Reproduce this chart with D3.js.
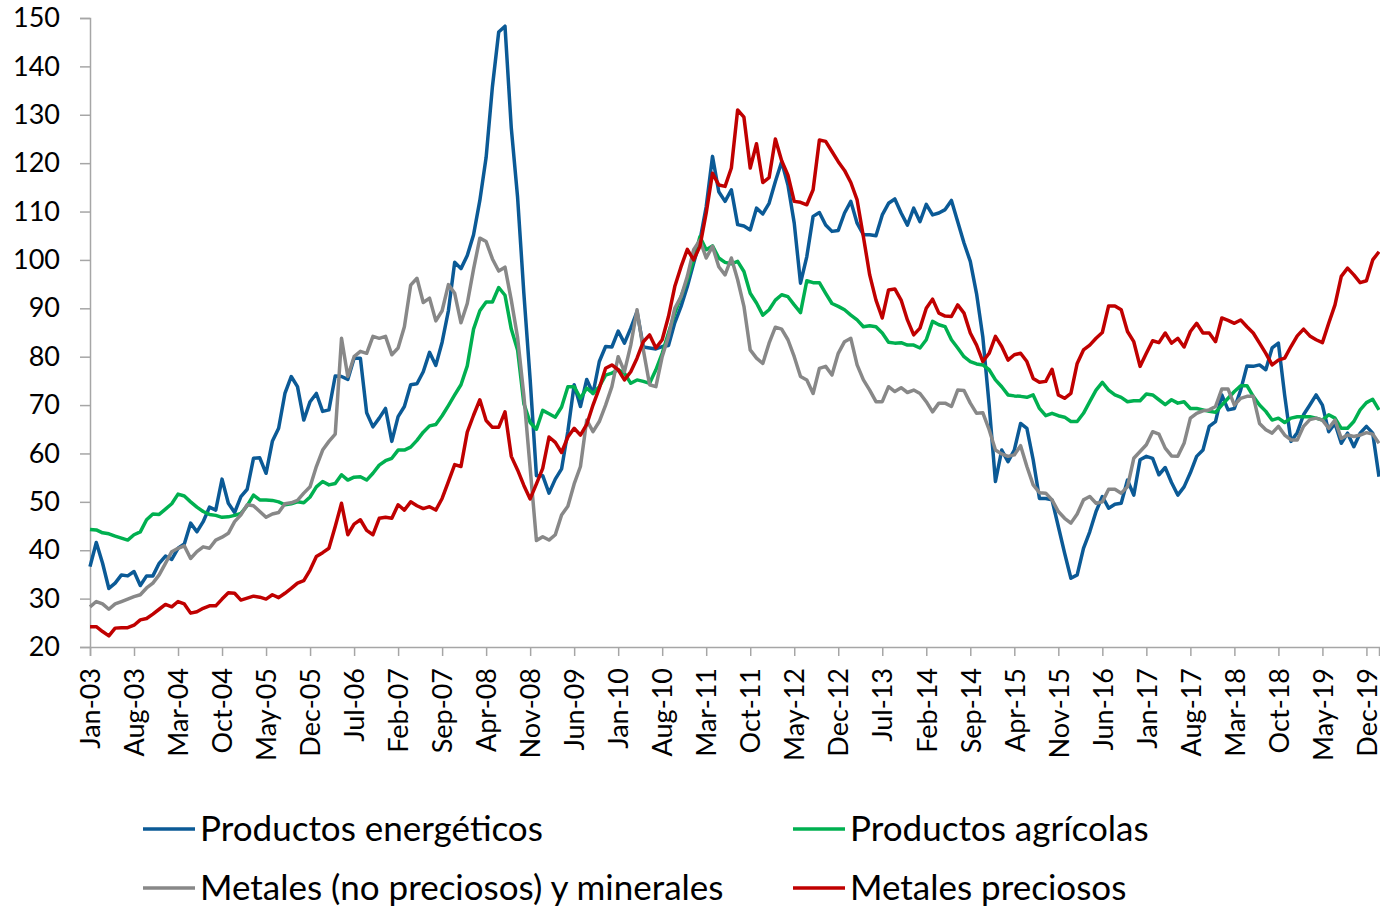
<!DOCTYPE html>
<html>
<head>
<meta charset="utf-8">
<script src="https://cdn.jsdelivr.net/npm/d3@7"></script>
<style>
  body { margin: 0; background: #fff; }
  svg text { font-family: Lato, "Liberation Sans", sans-serif; fill: #000; }
</style>
</head>
<body>
<svg id="chart" width="1380" height="907"></svg>
<script>
// monthly series, Jan-03 .. Feb-20
var startMonth = new Date(2003, 0, 1);

var energeticos = [
  36.6,41.6,37.3,32.1,33.2,34.9,34.7,35.6,32.7,34.7,
  34.7,37.3,38.8,38.1,40.4,41.3,45.6,43.8,45.9,48.9,
  48.3,54.7,49.7,47.8,51.1,52.6,59.0,59.1,55.9,62.5,
  65.2,72.4,75.9,73.8,66.9,70.7,72.4,68.7,69.0,76.0,
  75.9,75.3,79.7,79.7,68.4,65.5,67.3,69.3,62.5,67.6,
  69.7,74.2,74.4,76.9,80.9,78.2,83.0,89.5,99.5,98.2,
  100.9,105.2,112.3,121.2,135.8,147.1,148.3,127.3,113.0,93.1,
  75.3,55.4,55.4,51.8,54.7,56.8,64.6,74.2,69.7,75.3,
  72.4,79.0,82.1,82.0,85.3,82.8,85.9,89.3,82.0,81.8,
  81.6,82.1,82.3,87.0,90.4,94.5,99.3,104.0,111.0,121.4,
  114.1,112.1,114.5,107.3,107.0,106.2,110.7,109.5,111.7,116.2,
  120.3,115.5,107.6,95.2,100.7,109.0,109.8,107.2,105.9,106.1,
  109.7,112.1,107.6,105.2,105.2,105.0,109.3,111.7,112.6,109.7,
  107.2,110.7,107.9,111.5,109.3,109.7,110.4,112.3,107.9,103.5,
  99.7,93.0,84.0,70.0,54.2,60.7,58.3,60.7,66.2,65.2,
  58.7,50.7,50.7,50.4,44.9,39.4,34.2,34.9,40.4,43.8,
  48.0,51.1,48.7,49.5,49.7,54.5,51.4,58.7,59.4,59.0,
  55.6,57.1,54.0,51.4,53.1,56.0,59.4,60.7,65.6,66.6,
  72.1,69.0,69.3,73.1,78.1,78.0,78.3,77.3,81.8,82.8,
  72.0,62.5,64.3,68.0,70.0,72.1,70.0,64.5,66.2,62.1,
  64.2,61.4,64.2,65.6,64.2,55.2];

var agricolas = [
  44.3,44.2,43.6,43.4,42.9,42.5,42.1,43.2,43.8,46.3,
  47.5,47.4,48.5,49.6,51.6,51.2,50.0,48.9,48.0,47.4,
  47.2,46.8,46.9,47.2,47.6,49.2,51.4,50.4,50.4,50.3,
  50.0,49.4,49.6,50.0,49.8,51.0,53.1,54.2,53.5,53.8,
  55.6,54.5,55.1,55.2,54.5,55.9,57.6,58.5,59.0,60.7,
  60.7,61.3,62.7,64.4,65.7,66.0,67.8,69.9,72.1,74.2,
  78.1,85.7,89.5,91.3,91.3,94.3,92.7,85.7,81.4,70.3,
  66.4,65.0,68.9,68.2,67.5,69.6,73.8,73.8,71.4,73.5,
  72.4,73.8,76.2,76.6,77.3,76.6,74.5,75.2,74.9,74.5,
  77.3,80.7,84.9,89.0,92.4,95.9,100.0,104.8,102.1,102.9,
  100.4,99.5,99.2,99.7,97.6,93.1,91.1,88.6,89.7,91.7,
  92.8,92.4,90.7,89.1,95.7,95.3,95.3,93.1,91.0,90.4,
  89.7,88.6,87.6,86.2,86.4,86.2,84.9,83.0,82.8,82.9,
  82.4,82.4,81.8,83.5,87.3,86.6,86.2,83.5,81.8,80.0,
  79.0,78.5,78.3,77.3,75.2,73.8,72.1,71.9,71.8,71.6,
  72.1,69.3,67.8,68.3,67.8,67.5,66.6,66.6,68.3,70.7,
  73.1,74.7,73.1,72.1,71.6,70.7,70.9,70.9,72.3,72.1,
  71.1,70.1,71.1,70.4,70.7,69.3,69.3,69.0,68.7,68.5,
  70.0,71.4,72.8,74.0,74.0,71.8,70.0,68.7,66.9,67.3,
  66.4,67.3,67.6,67.6,67.6,67.3,66.9,68.0,67.3,65.2,
  65.2,66.6,69.0,70.5,71.2,69.0];

var metales = [
  28.3,29.4,28.9,27.8,28.9,29.4,29.9,30.4,30.8,32.2,
  33.2,34.9,37.3,39.7,40.4,40.9,38.3,39.7,40.7,40.4,
  42.1,42.7,43.5,45.9,47.3,49.4,49.2,48.0,46.8,47.5,
  47.8,49.6,49.8,50.3,51.8,53.1,57.3,60.7,62.5,64.0,
  83.8,75.9,80.0,81.1,80.7,84.2,83.8,84.2,80.4,81.8,
  86.2,94.8,96.2,91.2,92.1,87.4,89.5,94.9,93.1,87.0,
  91.0,98.1,104.5,103.8,100.2,97.7,98.5,91.7,84.0,72.0,
  57.0,42.0,42.8,42.1,43.2,47.3,49.1,53.7,57.3,66.9,
  64.5,66.6,70.0,73.8,80.0,76.9,82.4,89.7,81.4,74.2,
  73.8,80.0,84.2,90.0,92.4,96.6,102.1,104.1,100.4,102.8,
  98.6,96.9,100.4,95.9,90.4,81.4,79.7,78.6,82.8,86.1,
  85.7,83.5,80.0,75.9,75.2,72.4,77.6,78.0,76.2,80.7,
  83.1,83.8,78.3,75.2,73.1,70.7,70.7,73.8,72.8,73.6,
  72.6,73.1,72.4,70.7,68.6,70.4,70.4,69.7,73.1,73.0,
  70.4,68.3,68.4,64.9,60.7,59.9,59.4,59.7,61.6,57.3,
  53.5,51.9,51.8,50.4,48.0,46.6,45.6,47.5,50.4,51.1,
  49.7,50.0,52.6,52.6,51.8,53.1,59.0,60.4,61.8,64.5,
  64.0,61.1,59.5,59.4,62.1,67.3,68.3,68.8,69.0,69.7,
  73.3,73.3,70.0,71.4,71.8,71.8,66.2,64.9,64.2,65.6,
  63.8,62.8,62.8,65.6,67.0,67.3,66.9,65.2,66.9,63.1,
  63.8,63.5,63.8,64.3,64.0,62.1];

var preciosos = [
  24.2,24.2,23.2,22.3,23.9,24.0,24.0,24.5,25.6,25.9,
  26.8,27.8,28.8,28.3,29.4,28.9,27.0,27.3,28.0,28.5,
  28.5,29.9,31.2,31.1,29.7,30.1,30.5,30.3,29.9,30.8,
  30.2,31.1,32.1,33.2,33.7,35.9,38.7,39.5,40.4,44.9,
  49.7,43.2,45.4,46.3,44.1,43.2,46.6,46.8,46.6,49.4,
  48.3,50.0,49.2,48.6,49.0,48.3,50.7,54.2,57.7,57.3,
  64.4,67.9,71.1,66.8,65.4,65.4,68.6,59.4,56.6,53.4,
  50.6,53.7,56.9,63.4,62.3,60.2,63.4,65.2,63.8,66.0,
  70.0,73.5,77.6,78.3,77.3,75.2,76.9,79.7,83.1,84.5,
  81.8,83.5,88.3,94.5,98.6,102.2,100.0,102.8,109.7,117.9,
  115.5,115.2,119.0,131.0,129.5,119.0,124.0,116.0,117.0,125.0,
  120.5,117.5,112.1,111.9,111.4,114.5,124.8,124.5,122.4,120.3,
  118.5,116.0,112.4,104.8,96.9,91.7,88.0,93.8,94.0,91.7,
  87.6,84.5,85.9,90.0,91.9,89.0,88.4,88.3,90.7,89.0,
  84.9,82.4,79.0,80.7,84.2,82.1,79.3,80.4,80.7,79.0,
  75.5,74.7,74.9,77.4,72.1,71.4,72.4,78.6,81.4,82.4,
  83.8,85.0,90.5,90.5,89.7,85.2,83.1,78.0,80.7,83.3,
  82.9,84.9,82.8,83.8,82.0,85.2,86.9,84.9,84.9,83.1,
  88.0,87.5,86.9,87.6,86.2,84.9,82.8,80.7,78.3,79.3,
  79.7,82.1,84.3,85.7,84.3,83.5,82.9,86.9,90.7,96.6,
  98.3,96.9,95.3,95.7,100.0,101.7];

var seriesNames = ["Productos energéticos", "Productos agrícolas",
                   "Metales (no preciosos) y minerales", "Metales preciosos"];
var seriesColors = ["#0b5a96", "#00b050", "#888888", "#c00000"];
var yTicks = [20, 30, 40, 50, 60, 70, 80, 90, 100, 110, 120, 130, 140, 150];
var tickEvery = 7;

var fmt = d3.timeFormat("%b-%y");
var months = d3.range(energeticos.length).map(function(i) {
  return fmt(d3.timeMonth.offset(startMonth, i));
});

var svg = d3.select("#chart"),
    margin = {top: 18, right: 1, bottom: 260, left: 90},
    width = +svg.attr("width") - margin.left - margin.right,
    height = +svg.attr("height") - margin.top - margin.bottom;

var g = svg.append("g").attr("transform", "translate(" + margin.left + "," + margin.top + ")");

var x = d3.scalePoint()
    .domain(months)
    .range([0, width]);

var y = d3.scaleLinear()
    .domain([20, 150])
    .range([height, 0]);

var line = d3.line()
    .x(function(d, i) { return x(months[i]); })
    .y(function(d) { return y(d); });

// y axis
var yAxis = g.append("g")
    .call(d3.axisLeft(y).tickValues(yTicks).tickSize(10).tickPadding(20));
yAxis.selectAll("text").style("font-size", "27px");

// x axis
var xAxis = g.append("g")
    .attr("transform", "translate(0," + height + ")")
    .call(d3.axisBottom(x)
      .tickValues(months.filter(function(d, i) { return i % tickEvery === 0; }))
      .tickSize(9));
xAxis.selectAll("text")
    .style("font-size", "27px")
    .attr("transform", "rotate(-90)")
    .attr("text-anchor", "end")
    .attr("x", -21)
    .attr("y", 0)
    .attr("dy", "0.36em");

svg.selectAll(".domain, .tick line")
    .attr("stroke", "#a6a6a6")
    .attr("stroke-width", 1.5);

// lines
var allSeries = [energeticos, agricolas, metales, preciosos];
g.selectAll(".serie")
  .data(allSeries)
  .enter().append("path")
    .attr("class", "serie")
    .attr("fill", "none")
    .attr("stroke", function(d, i) { return seriesColors[i]; })
    .attr("stroke-width", 3.5)
    .attr("stroke-linejoin", "round")
    .attr("d", line);

// legend
var legCols = [143, 793], legRows = [829, 888];
var leg = svg.selectAll(".leg")
  .data(seriesNames)
  .enter().append("g")
    .attr("class", "leg")
    .attr("transform", function(d, i) {
      return "translate(" + legCols[i % 2] + "," + legRows[Math.floor(i / 2)] + ")";
    });

leg.append("line")
    .attr("x1", 0).attr("x2", 52)
    .attr("stroke", function(d, i) { return seriesColors[i]; })
    .attr("stroke-width", 3.5);

leg.append("text")
    .attr("x", 57)
    .attr("y", 12)
    .style("font-size", "35px")
    .text(function(d) { return d; });
</script>
</body>
</html>
